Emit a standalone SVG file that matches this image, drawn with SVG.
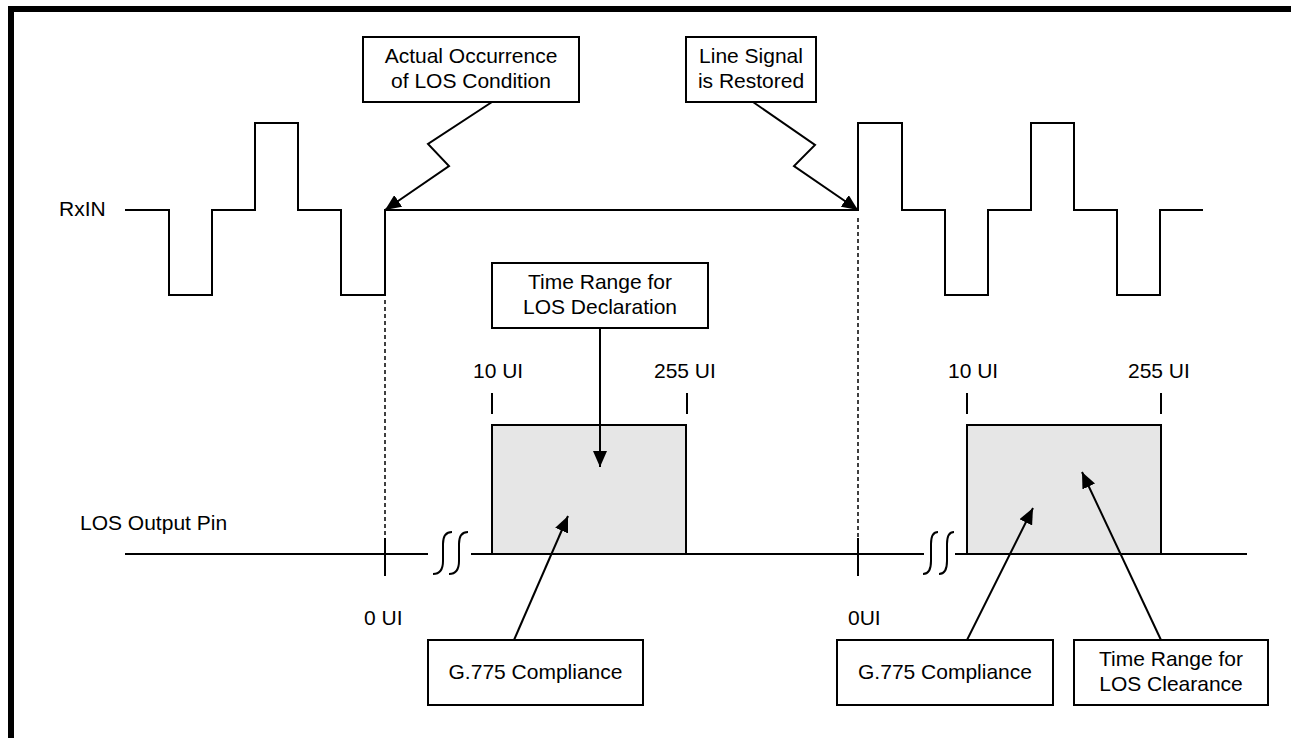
<svg xmlns="http://www.w3.org/2000/svg" width="1291" height="738" viewBox="0 0 1291 738">
<style>
text{font-family:"Liberation Sans",Arial,sans-serif;font-size:21px;fill:#000}
.c{text-anchor:middle}
.ln{fill:none;stroke:#000;stroke-width:2}
.box{fill:#fff;stroke:#000;stroke-width:2}
.gray{fill:#e6e6e6;stroke:#000;stroke-width:2}
.dash{fill:none;stroke:#000;stroke-width:1.5;stroke-dasharray:4,3}
.arr{fill:none;stroke:#000;stroke-width:2;marker-end:url(#ah)}
</style>
<defs>
<marker id="ah" markerUnits="userSpaceOnUse" markerWidth="18" markerHeight="14" refX="16" refY="7" orient="auto">
<path d="M0,0 L16,7 L0,14 Z" fill="#000"/>
</marker>
</defs>
<rect width="1291" height="738" fill="#fff"/>
<path d="M11,738 V9 H1291" fill="none" stroke="#000" stroke-width="6"/>

<g id="rxin-signal">
<text x="59" y="216">RxIN</text>
<path class="ln" d="M125,210 H169 V295 H212 V210 H255 V123 H298 V210 H341 V295 H385 V210 H858 V123 H902 V210 H945 V295 H988 V210 H1031 V123 H1074 V210 H1117 V295 H1160 V210 H1203"/>
</g>

<g id="los-output">
<text x="80" y="530">LOS Output Pin</text>
<path class="ln" d="M125,554 H428 M471,554 H924 M955,554 H1247"/>
<path class="ln" d="M433,574 C440,574 443,569 443,561 L443,544 C443,536 446,532 452,532"/>
<path class="ln" d="M449,574 C456,574 459,569 459,561 L459,544 C459,536 462,532 468,532"/>
<path class="ln" d="M923,574 C929,574 931,569 931,561 L931,544 C931,536 933,532 938,532"/>
<path class="ln" d="M939,574 C945,574 947,569 947,561 L947,544 C947,536 949,532 954,532"/>
</g>

<g id="range-declaration">
<rect class="gray" x="492" y="425" width="194" height="129"/>
<line class="ln" x1="492" y1="393" x2="492" y2="414"/>
<line class="ln" x1="687" y1="393" x2="687" y2="414"/>
<text x="473" y="378">10 UI</text>
<text x="654" y="378">255 UI</text>
</g>

<g id="range-clearance">
<rect class="gray" x="967" y="425" width="194" height="129"/>
<line class="ln" x1="967" y1="393" x2="967" y2="414"/>
<line class="ln" x1="1161" y1="393" x2="1161" y2="414"/>
<text x="948" y="378">10 UI</text>
<text x="1128" y="378">255 UI</text>
</g>

<g id="marker-0ui-1">
<line class="dash" x1="385" y1="300" x2="385" y2="540"/>
<line class="ln" x1="385" y1="538" x2="385" y2="576"/>
<text x="364" y="625">0 UI</text>
</g>

<g id="marker-0ui-2">
<line class="dash" x1="858" y1="218" x2="858" y2="540"/>
<line class="ln" x1="858" y1="538" x2="858" y2="576"/>
<text x="848" y="625">0UI</text>
</g>

<g id="callout-los-condition">
<rect class="box" x="363" y="37" width="216" height="65"/>
<text class="c" x="471" y="63">Actual Occurrence</text>
<text class="c" x="471" y="88">of LOS Condition</text>
</g>

<g id="callout-restored">
<rect class="box" x="686" y="37" width="130" height="65"/>
<text class="c" x="751" y="63">Line Signal</text>
<text class="c" x="751" y="88">is Restored</text>
</g>

<g id="callout-declaration">
<rect class="box" x="492" y="263" width="216" height="65"/>
<text class="c" x="600" y="289">Time Range for</text>
<text class="c" x="600" y="314">LOS Declaration</text>
</g>

<g id="callout-g775-1">
<rect class="box" x="428" y="640" width="215" height="65"/>
<text class="c" x="535.5" y="679">G.775 Compliance</text>
</g>

<g id="callout-g775-2">
<rect class="box" x="837" y="640" width="216" height="65"/>
<text class="c" x="945" y="679">G.775 Compliance</text>
</g>

<g id="callout-clearance">
<rect class="box" x="1074" y="640" width="194" height="65"/>
<text class="c" x="1171" y="666">Time Range for</text>
<text class="c" x="1171" y="691">LOS Clearance</text>
</g>

<g id="connectors">
<path class="arr" d="M492,102 L428,144 L449,166 L385,210"/>
<path class="arr" d="M753,102 L815,145 L794,166 L858,210"/>
<path class="arr" d="M600,328 L600,467"/>
<path class="arr" d="M514,640 L568,516"/>
<path class="arr" d="M967,640 L1033,508"/>
<path class="arr" d="M1161,640 L1082,472"/>
</g>
</svg>
